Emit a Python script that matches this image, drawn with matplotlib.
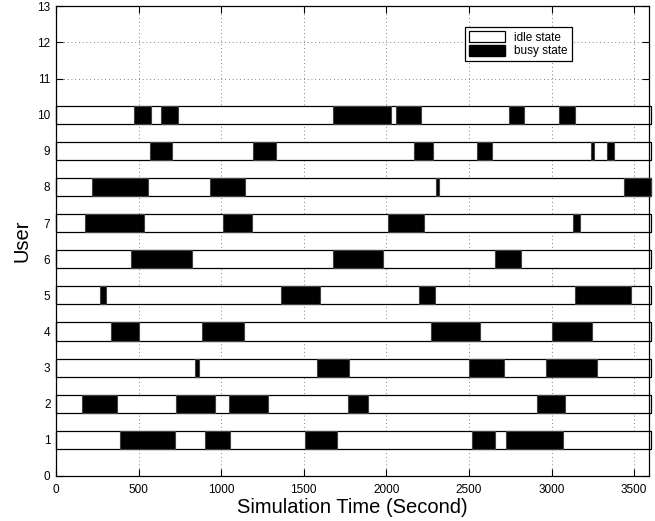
import matplotlib
matplotlib.use('Agg')
import matplotlib.pyplot as plt
from matplotlib.patches import Patch

plt.rcParams['font.family'] = ['Liberation Sans', 'DejaVu Sans']

users = [1, 2, 3, 4, 5, 6, 7, 8, 9, 10]
sim_end = 3600

# busy periods per user (start, end) in seconds
busy_start = [
    [390, 905, 1510, 2520, 2725],
    [155, 725, 1050, 1765, 2910],
    [840, 1580, 2500, 2965],
    [335, 885, 2270, 3005],
    [265, 1365, 2195, 3140],
    [455, 1680, 2660],
    [175, 1010, 2010, 3130],
    [220, 930, 2300, 3440],
    [570, 1195, 2170, 2550, 3240, 3335],
    [475, 635, 1675, 2060, 2740, 3045],
]
busy_end = [
    [720, 1055, 1700, 2660, 3070],
    [370, 965, 1285, 1890, 3080],
    [865, 1775, 2715, 3275],
    [500, 1140, 2565, 3245],
    [300, 1600, 2295, 3480],
    [825, 1980, 2815],
    [530, 1185, 2225, 3175],
    [555, 1145, 2320, 3600],
    [700, 1330, 2285, 2640, 3260, 3380],
    [575, 740, 2030, 2210, 2835, 3140],
]

xticks = [0, 500, 1000, 1500, 2000, 2500, 3000, 3500]
yticks = list(range(0, 14))

fig = plt.figure(figsize=(6.55, 5.21), dpi=100)
ax = fig.add_axes([0.0855, 0.0864, 0.9053, 0.9015])

h = 0.5
for u, s, e in zip(users, busy_start, busy_end):
    ax.broken_barh([(0, sim_end)], (u - h / 2, h), facecolors='white',
                   edgecolors='black', linewidth=0.9, clip_on=False, zorder=2)
    ax.broken_barh([(a, b - a) for a, b in zip(s, e)], (u - h / 2, h),
                   facecolors='black', edgecolors='0.25', linewidth=0.8,
                   clip_on=False, zorder=3)

ax.set_xlim(0, 3590)
ax.set_ylim(0, 13)
ax.set_xticks(xticks)
ax.set_yticks(yticks)
ax.tick_params(direction='in', length=5, width=0.8, labelsize=8.5,
               top=True, right=True)
ax.tick_params(axis='x', pad=6)
ax.tick_params(axis='y', pad=4)
ax.set_axisbelow(True)
ax.grid(True, linestyle=(0, (1, 3.5)), color='0.35', linewidth=0.6)
for sp in ax.spines.values():
    sp.set_linewidth(0.9)

ax.set_xlabel('Simulation Time (Second)', fontsize=14.5, labelpad=1)
ax.set_ylabel('User', fontsize=14.5, labelpad=4)

handles = [Patch(facecolor='white', edgecolor='black', linewidth=0.9, label='idle state'),
           Patch(facecolor='black', edgecolor='black', label='busy state')]
leg = ax.legend(handles=handles, loc='center', bbox_to_anchor=(0.78, 0.919),
                fontsize=8.5, fancybox=False, framealpha=1, edgecolor='black',
                handlelength=3.0, handleheight=1.0, handletextpad=0.8,
                borderpad=0.35, labelspacing=0.1, borderaxespad=0)
leg.get_frame().set_linewidth(0.9)

fig.savefig('out.png', dpi=100)
